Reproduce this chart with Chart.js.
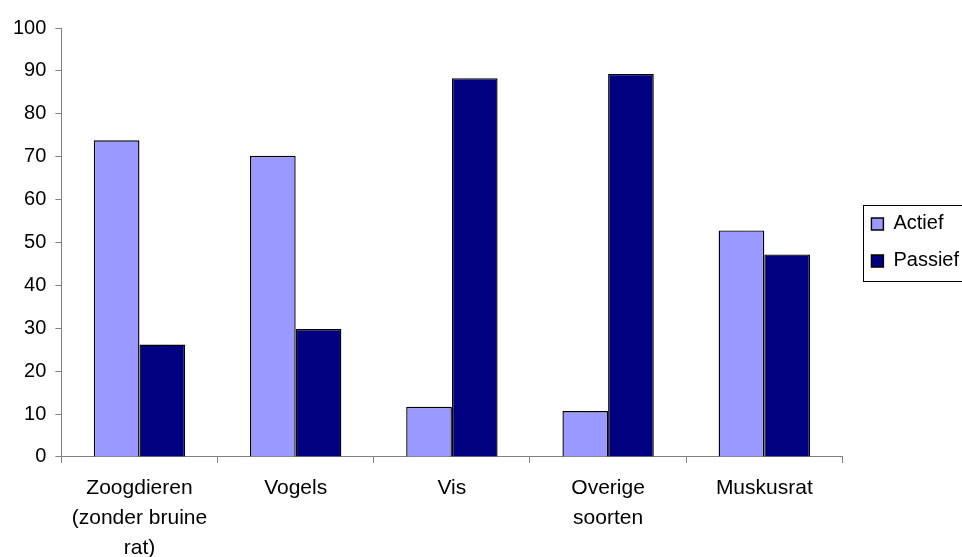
<!DOCTYPE html>
<html lang="nl">
<head>
<meta charset="utf-8">
<title>Actief en passief</title>
<script src="https://cdn.jsdelivr.net/npm/chart.js@4"></script>
<style>
  html, body { margin: 0; padding: 0; background: #ffffff; overflow: hidden; }
  #grafiek { display: block; }
</style>
</head>
<body>
<canvas id="grafiek" width="962" height="557"></canvas>
<script>
//CATEGORIEEN OP DE X-AS (MEERDERE REGELS PER LABEL)
const categorieen = [
  ['Zoogdieren', '(zonder bruine', 'rat)'],
  ['Vogels'],
  ['Vis'],
  ['Overige', 'soorten'],
  ['Muskusrat']
];
//PERCENTAGES PER REEKS
const actief = [73.8, 70.2, 11.7, 10.7, 52.8];
const passief = [26.2, 29.8, 88.3, 89.3, 47.2];
//Y-AS
const yMin = 0;
const yMax = 100;
const yStap = 10;

const lettertype = '"Liberation Sans", Arial, sans-serif';

//LEGENDA IETS NAAR RECHTS EN VERTICAAL MIDDEN OP HET PLOTGEBIED
const legendaPlaats = {
  id: 'legendaPlaats',
  afterLayout(chart) {
    const lg = chart.legend;
    if (!lg) return;
    const dx = 12;
    const dy = (chart.chartArea.top + chart.chartArea.bottom) / 2 - (lg.top + lg.bottom) / 2;
    lg.left += dx;
    lg.right += dx;
    lg.top += dy;
    lg.bottom += dy;
  }
};

//KADER OM DE LEGENDA
const kaderLegenda = {
  id: 'kaderLegenda',
  afterDraw(chart) {
    const boxes = chart.legend && chart.legend.legendHitBoxes;
    if (!boxes || !boxes.length) return;
    const ctx = chart.ctx;
    const eerste = boxes[0];
    const laatste = boxes[boxes.length - 1];
    const x = Math.round(eerste.left - 8) + 0.5;
    const y = Math.round(eerste.top - 9) + 0.5;
    const h = Math.round(laatste.top + laatste.height - eerste.top + 19);
    ctx.save();
    ctx.strokeStyle = '#000000';
    ctx.lineWidth = 1;
    ctx.strokeRect(x, y, 200, h);
    ctx.restore();
  }
};

const ctx = document.getElementById('grafiek').getContext('2d');
const grafiek = new Chart(ctx, {
  type: 'bar',
  data: {
    labels: categorieen,
    datasets: [
      {
        label: 'Actief',
        data: actief,
        backgroundColor: '#9999ff',
        borderColor: '#000000',
        borderWidth: 1.4,
        borderSkipped: 'bottom'
      },
      {
        label: 'Passief',
        data: passief,
        backgroundColor: '#000080',
        borderColor: '#000000',
        borderWidth: 1.4,
        borderSkipped: 'bottom'
      }
    ]
  },
  options: {
    responsive: false,
    animation: false,
    categoryPercentage: 0.585,
    barPercentage: 1.0,
    layout: {
      padding: { left: 4, top: 28, right: 5, bottom: -16 }
    },
    plugins: {
      title: { display: false },
      tooltip: { enabled: false },
      legend: {
        display: true,
        position: 'right',
        align: 'center',
        labels: {
          color: '#000000',
          boxWidth: 12,
          boxHeight: 12,
          padding: 17,
          font: { family: lettertype, size: 20 }
        }
      }
    },
    scales: {
      x: {
        offset: true,
        grid: {
          display: true,
          offset: true,
          drawOnChartArea: false,
          drawTicks: true,
          tickLength: 6,
          color: '#808080'
        },
        border: { display: true, color: '#808080', width: 1 },
        ticks: {
          color: '#000000',
          padding: 10,
          maxRotation: 0,
          autoSkip: false,
          font: { family: lettertype, size: 21, lineHeight: 1.43 }
        }
      },
      y: {
        min: yMin,
        max: yMax,
        grid: {
          display: true,
          drawOnChartArea: false,
          drawTicks: true,
          tickLength: 6,
          color: '#808080'
        },
        border: { display: true, color: '#808080', width: 1 },
        ticks: {
          stepSize: yStap,
          color: '#000000',
          padding: 9,
          font: { family: lettertype, size: 20 }
        }
      }
    }
  },
  plugins: [legendaPlaats, kaderLegenda]
});
</script>
</body>
</html>
